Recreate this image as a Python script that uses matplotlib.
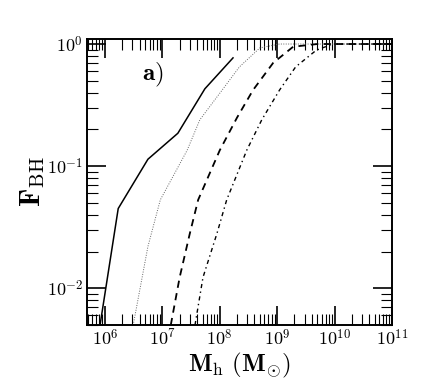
import numpy as np
import matplotlib
matplotlib.use("Agg")
import matplotlib.pyplot as plt
from matplotlib.ticker import LogLocator, FuncFormatter, NullFormatter

plt.rcParams['mathtext.fontset'] = 'cm'
plt.rcParams['font.family'] = 'serif'
plt.rcParams['font.serif'] = ['DejaVu Serif']

# Data
solid_x = [8.2e5, 1.7e6, 5.6e6, 1.86e7, 5.5e7, 1.7e8]
solid_y = [0.005, 0.045, 0.114, 0.186, 0.43, 0.77]

dotted_x = [3.1e6, 5.6e6, 9.2e6, 2.7e7, 4.5e7, 1.1e8, 2.2e8, 5.0e8, 1.1e9, 1e11]
dotted_y = [0.005, 0.022, 0.053, 0.135, 0.24, 0.42, 0.65, 0.93, 1.0, 1.0]

dashed_x = [1.4e7, 2.0e7, 3.0e7, 4.2e7, 1.0e8, 2.0e8, 3.8e8, 8.5e8, 1.9e9, 5.0e9, 1e11]
dashed_y = [0.005, 0.0123, 0.028, 0.053, 0.135, 0.25, 0.42, 0.70, 0.95, 1.0, 1.0]

dashdot_x = [3.7e7, 5.1e7, 8.9e7, 1.32e8, 2.95e8, 5.4e8, 1.1e9, 2.1e9, 4.8e9, 9.3e9, 1e11]
dashdot_y = [0.005, 0.0123, 0.028, 0.053, 0.135, 0.24, 0.42, 0.65, 0.89, 1.0, 1.0]

fig = plt.figure(figsize=(4.36, 3.82), dpi=100)
ax = fig.add_axes([0.2, 0.149, 0.699, 0.749])

ax.plot(solid_x, solid_y, color='black', lw=1.1, ls='-')
ax.plot(dotted_x, dotted_y, color='#666666', lw=0.7, ls=(0, (1, 1.5)))
ax.plot(dashed_x, dashed_y, color='black', lw=1.3, ls=(0, (4, 3)))
ax.plot(dashdot_x, dashdot_y, color='black', lw=1.0, ls=(0, (3, 2.5, 1, 2.5)))

ax.set_xscale('log')
ax.set_yscale('log')
ax.set_xlim(10**5.69, 1e11)
ax.set_ylim(0.005, 1.1)

ax.xaxis.set_major_locator(LogLocator(base=10, numticks=20))
ax.yaxis.set_major_locator(LogLocator(base=10, numticks=20))
ax.xaxis.set_minor_locator(LogLocator(base=10, subs=np.arange(2, 10), numticks=100))
ax.yaxis.set_minor_locator(LogLocator(base=10, subs=np.arange(2, 10), numticks=100))
fmt = FuncFormatter(lambda v, p: r'$10^{%d}$' % int(round(np.log10(v))))
ax.xaxis.set_major_formatter(fmt)
ax.yaxis.set_major_formatter(fmt)
ax.xaxis.set_minor_formatter(NullFormatter())
ax.yaxis.set_minor_formatter(NullFormatter())

ax.tick_params(which='both', direction='in', top=True, right=True, labelsize=13)
ax.tick_params(which='major', length=14, width=1.2, pad=3)
ax.tick_params(which='minor', length=8, width=0.8)
for s in ax.spines.values():
    s.set_linewidth(1.4)

ax.set_xlabel(r'$\mathbf{M}_{\rm h}\ (\mathbf{M}_{\odot})$', fontsize=18, labelpad=1)
ax.set_ylabel(r'$\mathbf{F}_{\rm BH}$', fontsize=21, labelpad=0)

ax.text(0.18, 0.855, r'$\mathbf{a)}$', transform=ax.transAxes, fontsize=18)

fig.savefig('out.png', dpi=100)
